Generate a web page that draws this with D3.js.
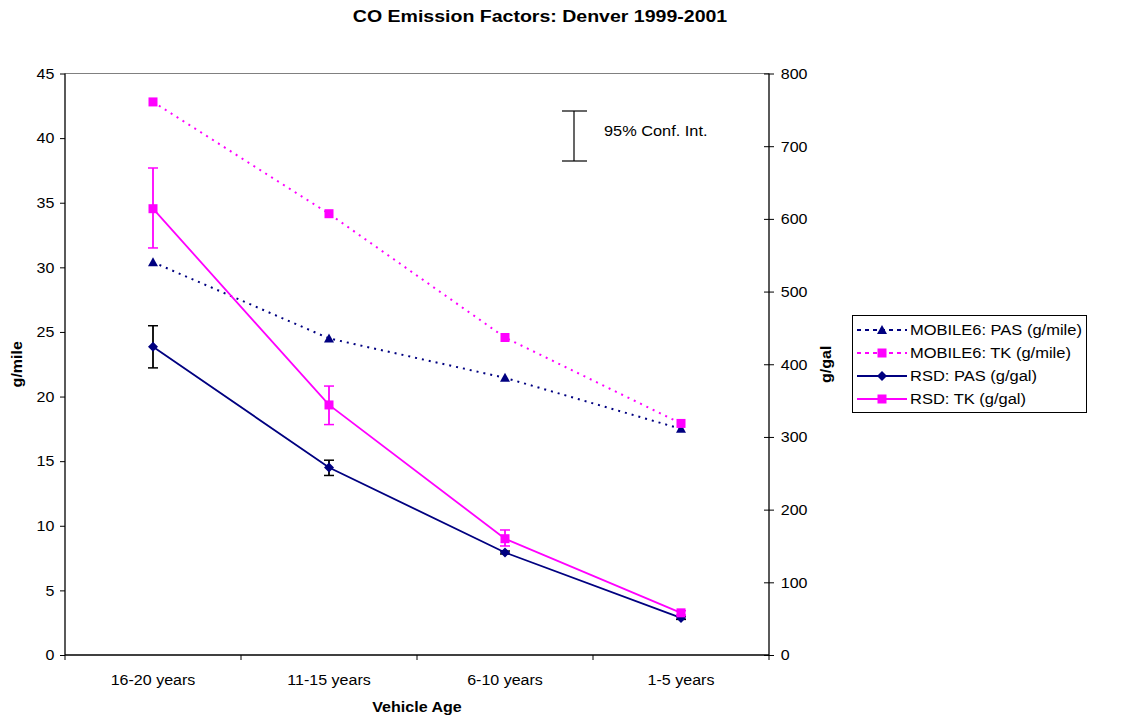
<!DOCTYPE html>
<html><head><meta charset="utf-8">
<script src="https://cdn.jsdelivr.net/npm/d3@7"></script>
<style>body{margin:0;background:#fff;} text{font-family:"Liberation Sans",Arial,sans-serif;}</style>
</head><body><svg id="c" width="1138" height="719"></svg>
<script>
const categories = ["16-20 years","11-15 years","6-10 years","1-5 years"];
const mobilePas = [30.4, 24.5, 21.45, 17.5];      // g/mile (left)
const mobileTk = [42.8, 34.15, 24.57, 17.92];     // g/mile (left)
const rsdPas = [424, 258, 141, 51];               // g/gal (right)
const rsdPasLo = [395, 247, 139, 49];
const rsdPasHi = [453, 268, 143, 53];
const rsdTk = [614, 344, 160, 58];                // g/gal (right)
const rsdTkLo = [560, 317, 150, 55];
const rsdTkHi = [670, 370, 172, 61];
const leftTicks = [0,5,10,15,20,25,30,35,40,45];
const rightTicks = [0,100,200,300,400,500,600,700,800];
const legendLabels = ["MOBILE6: PAS (g/mile)","MOBILE6: TK (g/mile)","RSD: PAS (g/gal)","RSD: TK (g/gal)"];

const NAVY = "#000080", MAG = "#FF00FF";
const svg = d3.select("#c");
const L = 65, R = 769, T = 73.5, B = 655;
const x = d3.scaleBand().domain(categories).range([L, R]);
const xc = d => x(d) + x.bandwidth()/2;
const yL = d3.scaleLinear().domain([0,45]).range([B, T]);
const yR = d3.scaleLinear().domain([0,800]).range([B, T]);

function stext(px, py, str, size, sx, anchor, bold, rot) {
  const g = svg.append("g").attr("transform", `translate(${px},${py})` + (rot ? ` rotate(${rot})` : "") + ` scale(${sx},1)`);
  return g.append("text").attr("text-anchor", anchor || "start").style("font-size", size + "px")
    .style("font-weight", bold ? "bold" : "normal").text(str);
}

// title
stext(540, 22, "CO Emission Factors: Denver 1999-2001", 17, 1.15, "middle", true);

// top border
svg.append("line").attr("x1", L).attr("x2", R).attr("y1", T).attr("y2", T).attr("stroke","#808080").attr("stroke-width",1);

// axes
const axL = svg.append("g").attr("transform",`translate(${L},0)`)
  .call(d3.axisLeft(yL).tickValues(leftTicks).tickSize(5).tickPadding(6));
const axR = svg.append("g").attr("transform",`translate(${R},0)`)
  .call(d3.axisRight(yR).tickValues(rightTicks).tickSize(5).tickPadding(7));
axR.selectAll(".tick line").attr("x1", -5);
const axB = svg.append("g").attr("transform",`translate(0,${B})`)
  .call(d3.axisBottom(x).tickSize(0).tickPadding(19));
const bounds = categories.map(c => x(c)).concat([R]);
svg.append("g").selectAll("line").data(bounds).join("line")
  .attr("x1", d=>d).attr("x2", d=>d).attr("y1", B).attr("y2", B+5).attr("stroke","#000");
[axL, axR, axB].forEach(a => {
  a.selectAll("path").attr("stroke","#000").attr("stroke-width",1.3);
  a.selectAll(".tick line").attr("stroke","#000");
  a.selectAll("text").style("font-size","15px").attr("fill","#000");
});
axL.selectAll(".tick text").attr("x", -10).attr("transform","scale(1.07,1)");
axR.selectAll(".tick text").attr("x", 11).attr("transform","scale(1.07,1)");
axB.selectAll(".tick text").attr("transform","scale(1.07,1)");
axL.select(".domain").attr("d", `M0,${T}V${B}`);
axR.select(".domain").attr("d", `M0,${T}V${B}`);
axB.select(".domain").attr("d", `M${L},0H${R}`);

// axis titles
stext(22, (T+B)/2, "g/mile", 15, 1.07, "middle", true, -90);
stext(831, (T+B)/2, "g/gal", 15, 1.07, "middle", true, -90);
stext((L+R)/2, 712, "Vehicle Age", 15, 1.07, "middle", true);

// markers
function marker(g, type, cx, cy, color) {
  if (type === "tri") g.append("path").attr("d", `M${cx},${cy-5}L${cx+5},${cy+4}L${cx-5},${cy+4}Z`).attr("fill", color);
  else if (type === "sq") g.append("rect").attr("x", cx-4.5).attr("y", cy-4.5).attr("width", 9).attr("height", 9).attr("fill", color);
  else g.append("path").attr("d", `M${cx},${cy-5}L${cx+5},${cy}L${cx},${cy+5}L${cx-5},${cy}Z`).attr("fill", color);
}
const line = d3.line();
function series(vals, y, color, dash, type, lo, hi, errColor) {
  const g = svg.append("g");
  if (lo) {
    categories.forEach((c,i) => {
      const cx = xc(c);
      g.append("line").attr("x1",cx).attr("x2",cx).attr("y1",y(lo[i])).attr("y2",y(hi[i])).attr("stroke",errColor).attr("stroke-width",1.8);
      [lo[i],hi[i]].forEach(v => g.append("line").attr("x1",cx-5).attr("x2",cx+5).attr("y1",y(v)).attr("y2",y(v)).attr("stroke",errColor).attr("stroke-width",1.5));
    });
  }
  g.append("path").attr("d", line(categories.map((c,i)=>[xc(c), y(vals[i])])))
    .attr("fill","none").attr("stroke",color).attr("stroke-width", dash ? 2 : 1.8)
    .attr("stroke-dasharray", dash ? "2,5" : null);
  categories.forEach((c,i) => marker(g, type, xc(c), y(vals[i]), color));
}
series(mobilePas, yL, NAVY, true, "tri");
series(mobileTk, yL, MAG, true, "sq");
series(rsdPas, yR, NAVY, false, "dia", rsdPasLo, rsdPasHi, "#000");
series(rsdTk, yR, MAG, false, "sq", rsdTkLo, rsdTkHi, MAG);

// conf. interval key
const ci = svg.append("g");
ci.append("line").attr("x1",574).attr("x2",574).attr("y1",111).attr("y2",161).attr("stroke","#000").attr("stroke-width",1.2);
[111,161].forEach(yy => ci.append("line").attr("x1",562).attr("x2",587).attr("y1",yy).attr("y2",yy).attr("stroke","#000").attr("stroke-width",1.2));
stext(604, 136, "95% Conf. Int.", 15, 1.09, "start", false);

// legend
const lg = svg.append("g");
lg.append("rect").attr("x",852.5).attr("y",315.5).attr("width",234).attr("height",97).attr("fill","#fff").attr("stroke","#000");
const lgDefs = [[NAVY,true,"tri"],[MAG,true,"sq"],[NAVY,false,"dia"],[MAG,false,"sq"]];
legendLabels.forEach((lab,i) => {
  const yy = 330 + i*23;
  const [col,dash,type] = lgDefs[i];
  lg.append("line").attr("x1",857).attr("x2",907).attr("y1",yy).attr("y2",yy).attr("stroke",col)
    .attr("stroke-width",dash?2:1.8).attr("stroke-dasharray",dash?"4,4":null);
  marker(lg, type, 882, yy, col);
  stext(910, yy+5, lab, 15, 1.1, "start", false);
});
</script></body></html>
